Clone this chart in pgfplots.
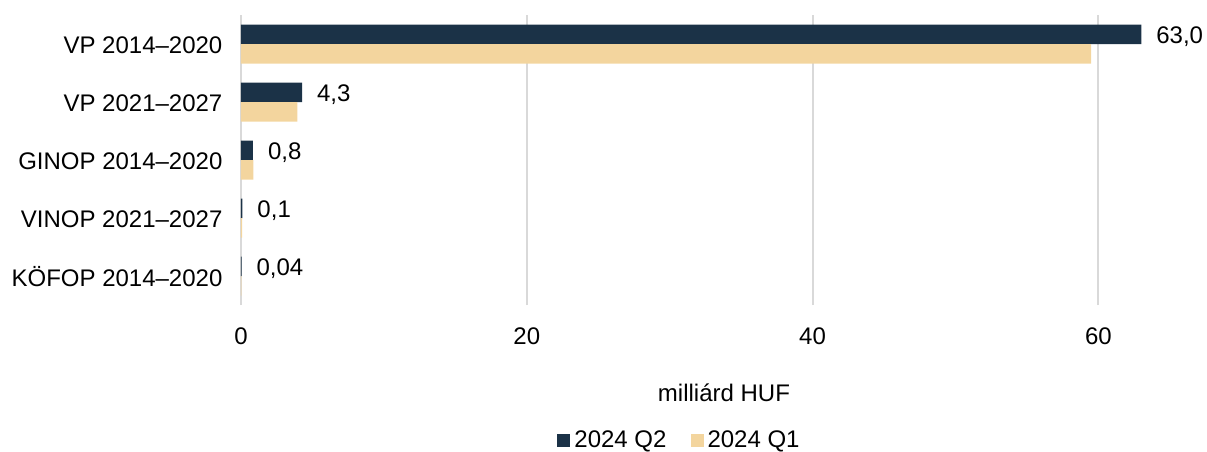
\documentclass[border=0pt]{standalone}
\usepackage{pgfplots}
\pgfplotsset{compat=1.18}
\usepackage{fontspec}
\setmainfont{Liberation Sans}
\definecolor{qtwo}{HTML}{1B3247}
\definecolor{qone}{HTML}{F3D59E}
\definecolor{gridc}{HTML}{D9D9D9}
\begin{document}
\begin{tikzpicture}
\path[use as bounding box] (-120.5pt,-73pt) rectangle (483pt,152.5pt);
\begin{axis}[
  scale only axis, width=483pt, height=145pt,
  at={(0,0)}, anchor=south west,
  xmin=0, xmax=67.6, ymin=-0.5, ymax=4.5,
  xbar, bar width=9.75pt,
  xtick={0,20,40,60},
  ytick={0,1,2,3,4},
  yticklabels={KÖFOP 2014–2020, VINOP 2021–2027, GINOP 2014–2020, VP 2021–2027, VP 2014–2020},
  /pgf/number format/assume math mode=true,
  axis line style={draw=none},
  major tick style={draw=none},
  xmajorgrids, grid style={gridc, line width=1pt},
  ticklabel style={font=\fontsize{12}{14}\selectfont, text=black},
  yticklabel style={xshift=-1.5pt, yshift=-0.5pt},
  xticklabel style={yshift=-8pt},
  xlabel={milliárd HUF},
  xlabel style={font=\fontsize{12}{14}\selectfont, at={(axis description cs:0.5,-0.303)}, anchor=center},
  legend style={draw=none, font=\fontsize{12}{14}\selectfont, at={(0.455,-0.466)}, anchor=center, legend columns=2,
    /tikz/every even column/.append style={column sep=10pt}},
  legend image code/.code={\fill[#1] (0pt,-3.25pt) rectangle (6.5pt,3.25pt);},
]
\addplot[fill=qtwo, draw=none, bar shift=4.875pt,
  point meta=explicit symbolic,
  nodes near coords={\pgfplotspointmeta},
  every node near coord/.append style={anchor=west, xshift=4pt, yshift=-1pt, font=\fontsize{12}{14}\selectfont, text=black}]
  table[meta=lab] {
x y lab
63.0 4 63,0
4.27 3 4,3
0.84 2 0,8
0.10 1 0,1
0.04 0 0,04
};
\addlegendentry{2024 Q2}
\addplot[fill=qone, draw=none, bar shift=-4.875pt] coordinates {
(59.5,4) (3.94,3) (0.87,2) (0.08,1) (0.02,0)};
\addlegendentry{2024 Q1}
\end{axis}
\end{tikzpicture}
\end{document}
